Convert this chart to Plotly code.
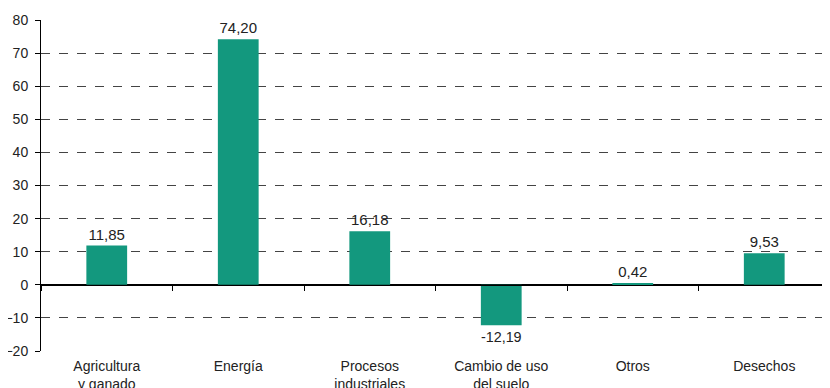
import plotly.graph_objects as go

categories = ["Agricultura<br>y ganado", "Energía", "Procesos<br>industriales",
              "Cambio de uso<br>del suelo", "Otros", "Desechos"]
values = [11.85, 74.20, 16.18, -12.19, 0.42, 9.53]
y_ticks = [-20, -10, 0, 10, 20, 30, 40, 50, 60, 70, 80]

font_family = "Liberation Sans, Arial, sans-serif"
bar_color = "#13987e"

fig = go.Figure()
fig.add_trace(go.Bar(
    x=categories, y=values,
    marker=dict(color=bar_color, line=dict(width=0)),
    texttemplate="%{y:.2f}", textposition="outside",
    textfont=dict(size=15, color="#222222", family=font_family),
    cliponaxis=False, showlegend=False,
))
# invisible trace on overlay axis for the boundary ticks at y=0
fig.add_trace(go.Scatter(x=categories, y=[None]*len(categories), xaxis="x2",
                         mode="markers", showlegend=False, hoverinfo="skip"))

# the page body has an 8px default margin, so the figure is sized to fit the window
fig.update_layout(
    width=822, height=380,
    margin=dict(l=33, r=0, t=12, b=37),
    paper_bgcolor="white", plot_bgcolor="white",
    separators=",.",
    bargap=0.69,
    font=dict(family=font_family, size=14, color="#222222"),
    xaxis=dict(
        type="category", showline=False, ticks="outside", ticklen=2,
        tickcolor="rgba(0,0,0,0)", showgrid=False, automargin=False,
        tickfont=dict(size=14, color="#222222"),
    ),
    xaxis2=dict(
        type="category", overlaying="x", anchor="free", position=0.2,
        side="bottom", showline=True, linecolor="black", linewidth=1,
        ticks="outside", tickson="boundaries", ticklen=5, tickcolor="black",
        showticklabels=False, showgrid=False, matches="x", automargin=False,
    ),
    yaxis=dict(
        range=[-20, 80], tickvals=y_ticks, showline=True, linecolor="black",
        linewidth=1, ticks="outside", ticklen=5, tickcolor="black",
        showgrid=True, gridcolor="#444444", griddash="dash", gridwidth=1,
        zeroline=True, zerolinecolor="black", zerolinewidth=1,
        automargin=False, ticklabelstandoff=4,
        tickfont=dict(size=14, color="#222222"),
    ),
)

fig.write_html("out.html")
